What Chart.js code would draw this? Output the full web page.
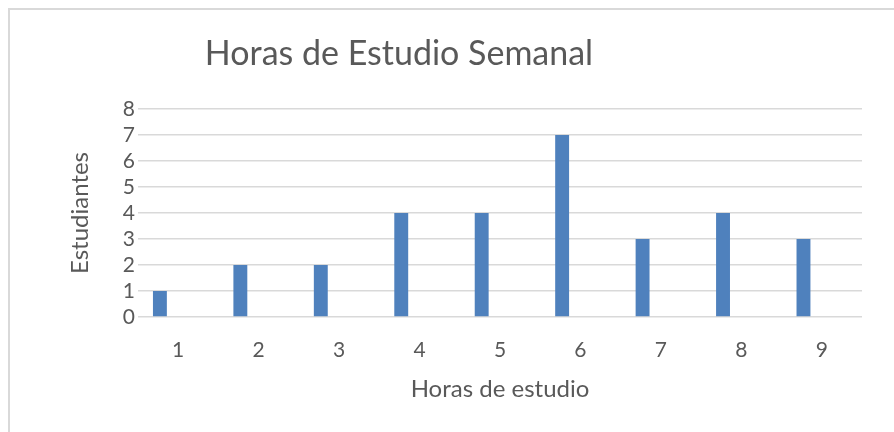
<!DOCTYPE html>
<html>
<head>
<meta charset="utf-8">
<script src="https://cdn.jsdelivr.net/npm/chart.js@4/dist/chart.umd.min.js"></script>
<style>
  html, body { margin: 0; padding: 0; background: #fff; overflow: hidden; }
  #wrap { position: relative; width: 894px; height: 432px; }
  #frame { position: absolute; left: 8px; top: 8px; width: 900px; height: 440px; border: 2px solid #d9d9d9; box-sizing: border-box; }
  #title { position: absolute; left: 0; width: 798px; top: 31px; text-align: center; font-family: Lato, sans-serif; font-size: 34px; line-height: 41px; color: #595959; }
  canvas { position: absolute; left: 0; top: 0; }
</style>
</head>
<body>
<div id="wrap">
  <div id="frame"></div>
  <canvas id="c" width="894" height="432"></canvas>
  <div id="title"></div>
</div>
<script>
const categories = ['1', '2', '3', '4', '5', '6', '7', '8', '9'];
const estudiantes = [1, 2, 2, 4, 4, 7, 3, 4, 3];
const emptySeries = [null, null, null, null, null, null, null, null, null];
const yTicks = [0, 1, 2, 3, 4, 5, 6, 7, 8];
const chartTitle = 'Horas de Estudio Semanal';
const xTitle = 'Horas de estudio';
const yTitle = 'Estudiantes';

document.getElementById('title').textContent = chartTitle;

const grey = '#595959';
new Chart(document.getElementById('c'), {
  type: 'bar',
  data: {
    labels: categories,
    datasets: [
      { label: yTitle, data: estudiantes, backgroundColor: '#4f81bd', borderWidth: 0 },
      { label: '', data: emptySeries, backgroundColor: 'rgba(0,0,0,0)' }
    ]
  },
  options: {
    responsive: false,
    animation: false,
    categoryPercentage: 0.91,
    barPercentage: 0.38,
    layout: { padding: { left: 62, right: 32, top: 109, bottom: 24 } },
    plugins: { legend: { display: false }, tooltip: { enabled: false }, title: { display: false } },
    scales: {
      x: {
        grid: { display: false },
        border: { display: false },
        ticks: { color: grey, font: { family: 'Lato', size: 21 }, padding: 13 },
        title: { display: true, text: xTitle, color: grey, font: { family: 'Lato', size: 24 }, padding: { top: -1, bottom: 4 } }
      },
      y: {
        min: 0, max: 8,
        afterBuildTicks: (axis) => { axis.ticks = yTicks.map(v => ({ value: v })); },
        grid: { color: '#d9d9d9', lineWidth: 1.5, drawTicks: false },
        border: { display: false },
        ticks: { color: grey, font: { family: 'Lato', size: 21 }, padding: 3, autoSkip: false, stepSize: 1 },
        title: { display: true, text: yTitle, color: grey, font: { family: 'Lato', size: 24 }, padding: { top: 4, bottom: 25 } }
      }
    }
  }
});
</script>
</body>
</html>
